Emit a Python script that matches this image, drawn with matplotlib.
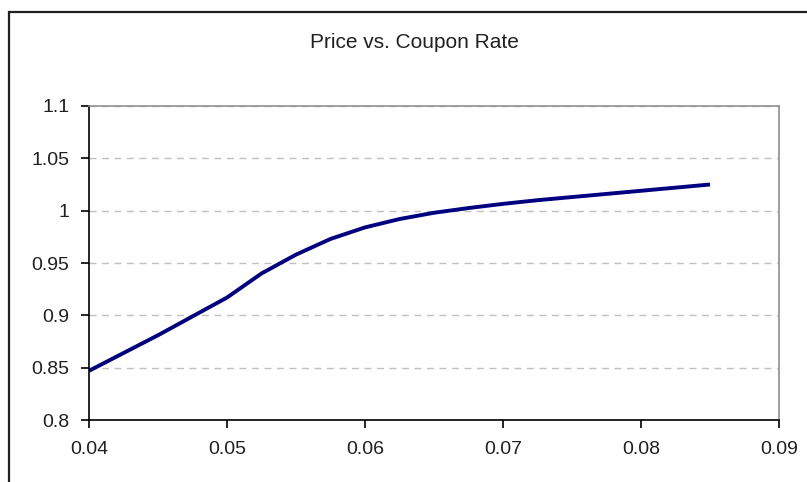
import matplotlib.pyplot as plt
from matplotlib.patches import Rectangle

# coupon rate vs. bond price
coupon_rate = [0.04, 0.0425, 0.045, 0.0475, 0.05, 0.0525, 0.055, 0.0575, 0.06, 0.0625,
               0.065, 0.0675, 0.07, 0.0725, 0.075, 0.0775, 0.08, 0.0825, 0.085]
price = [0.847, 0.864, 0.881, 0.899, 0.917, 0.940, 0.958, 0.973, 0.984, 0.992,
         0.998, 1.0025, 1.0065, 1.010, 1.013, 1.016, 1.019, 1.022, 1.025]

x_ticks = [0.04, 0.05, 0.06, 0.07, 0.08, 0.09]
x_labels = ['0.04', '0.05', '0.06', '0.07', '0.08', '0.09']
y_ticks = [0.8, 0.85, 0.9, 0.95, 1.0, 1.05, 1.1]
y_labels = ['0.8', '0.85', '0.9', '0.95', '1', '1.05', '1.1']

plt.rcParams['font.family'] = ['Liberation Sans', 'DejaVu Sans']

fig = plt.figure(figsize=(8.07, 4.82), dpi=100)
ax = fig.add_axes([0.1103, 0.1286, 0.8550, 0.6515])

# chart border (runs off the right and bottom)
fig.patches.append(Rectangle((9 / 807, -0.1), 1.2, 1 - 12 / 482 + 0.1,
                             transform=fig.transFigure, fill=False,
                             edgecolor='#202020', linewidth=1.6))

ax.plot(coupon_rate, price, color='#000080', linewidth=2.8,
        solid_capstyle='butt', solid_joinstyle='round')

ax.set_xlim(0.04, 0.09)
ax.set_ylim(0.8, 1.1)
ax.set_xticks(x_ticks)
ax.set_xticklabels(x_labels)
ax.set_yticks(y_ticks)
ax.set_yticklabels(y_labels)

ax.grid(axis='y', color='#c0c0c0', linestyle=(0, (5, 4)), linewidth=1.0)
ax.set_axisbelow(True)

for side in ['left', 'bottom']:
    ax.spines[side].set_color('black')
    ax.spines[side].set_linewidth(1.2)
for side in ['top', 'right']:
    ax.spines[side].set_color('#909090')
    ax.spines[side].set_linewidth(1.2)

ax.tick_params(axis='both', direction='out', length=6, width=1.2, color='black',
               labelsize=14, labelcolor='#202020')
ax.tick_params(axis='x', pad=9)
ax.tick_params(axis='y', pad=8)

fig.text(0.514, 0.912, 'Price vs. Coupon Rate', ha='center', va='center',
         fontsize=15, color='#202020')

fig.savefig('out.png', dpi=100)
